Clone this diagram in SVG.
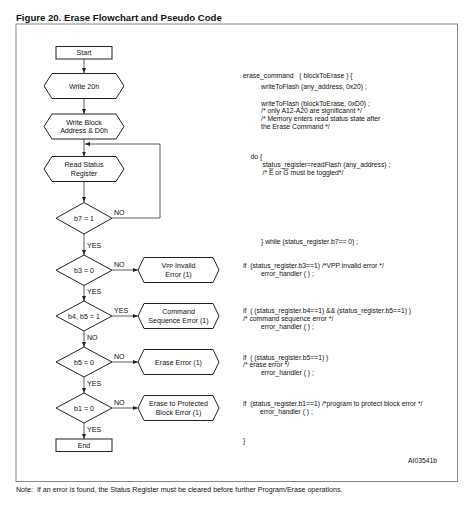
<svg xmlns="http://www.w3.org/2000/svg" width="474" height="513" viewBox="0 0 474 513">
<style>
text{font-family:"Liberation Sans",Arial,sans-serif;fill:#111}
.t{font-size:9.6px;font-weight:bold}
.n{font-size:7.1px;text-anchor:middle}
.l{font-size:7.1px}
.c{font-size:6.8px}
.note{font-size:7.1px}
.s{fill:#fff;stroke:#222;stroke-width:1}
.w{fill:none;stroke:#333;stroke-width:0.8}
</style>
<defs>
<marker id="a" markerWidth="6" markerHeight="6" refX="5" refY="3" orient="auto" markerUnits="userSpaceOnUse">
<path d="M0,1 L5,3 L0,5 z" fill="#222"/>
</marker>
</defs>
<rect width="474" height="513" fill="#fff"/>
<text class="t" x="16" y="21">Figure 20. Erase Flowchart and Pseudo Code</text>
<rect x="16" y="24" width="441.5" height="457.5" fill="none" stroke="#888" stroke-width="1"/>

<g id="connectors">
<path class="w" d="M84,59 V73" marker-end="url(#a)"/>
<path class="w" d="M84,98.5 V114" marker-end="url(#a)"/>
<path class="w" d="M84,139 V156.5" marker-end="url(#a)"/>
<path class="w" d="M112,218 H160 V144 H85" marker-end="url(#a)"/>
<path class="w" d="M84,181.5 V202" marker-end="url(#a)"/>
<path class="w" d="M84,234 V255" marker-end="url(#a)"/>
<path class="w" d="M112,270 H138" marker-end="url(#a)"/>
<path class="w" d="M84,285 V301" marker-end="url(#a)"/>
<path class="w" d="M112,316 H138" marker-end="url(#a)"/>
<path class="w" d="M84,331 V347" marker-end="url(#a)"/>
<path class="w" d="M112,362 H138" marker-end="url(#a)"/>
<path class="w" d="M84,377 V393" marker-end="url(#a)"/>
<path class="w" d="M112,408 H138" marker-end="url(#a)"/>
<path class="w" d="M84,423 V439" marker-end="url(#a)"/>
<text class="l" x="114" y="215.2">NO</text>
<text class="l" x="87" y="248.3">YES</text>
<text class="l" x="114" y="267">NO</text>
<text class="l" x="87" y="294.3">YES</text>
<text class="l" x="114" y="313">YES</text>
<text class="l" x="87" y="340.3">NO</text>
<text class="l" x="114" y="359">NO</text>
<text class="l" x="87" y="386.3">YES</text>
<text class="l" x="114" y="405">NO</text>
<text class="l" x="87" y="432.3">YES</text>
</g>

<g id="start">
<rect class="s" x="56" y="46.5" width="56" height="12.5"/>
<text class="n" x="84" y="55.4">Start</text>
</g>
<g id="write20h">
<polygon class="s" points="52,73.5 116,73.5 124,86 116,98.5 52,98.5 44,86"/>
<text class="n" x="84" y="88.5">Write 20h</text>
</g>
<g id="writeblock">
<polygon class="s" points="52,114 116,114 124,126.5 116,139 52,139 44,126.5"/>
<text class="n" x="84" y="124.8">Write Block</text>
<text class="n" x="84" y="133.3">Address &amp; D0h</text>
</g>
<g id="readstatus">
<polygon class="s" points="52,156.5 116,156.5 124,169 116,181.5 52,181.5 44,169"/>
<text class="n" x="84" y="167.3">Read Status</text>
<text class="n" x="84" y="175.8">Register</text>
</g>
<g id="b7">
<polygon class="s" points="84,202.5 112,218.2 84,234 56,218.2"/>
<text class="n" x="84" y="220.7">b7 = 1</text>
</g>
<g id="b3">
<polygon class="s" points="84,255 112,270.2 84,285.5 56,270.2"/>
<text class="n" x="84" y="272.7">b3 = 0</text>
</g>
<g id="b45">
<polygon class="s" points="84,301 112,316 84,331 56,316"/>
<text class="n" x="84" y="318.5">b4, b5 = 1</text>
</g>
<g id="b5">
<polygon class="s" points="84,347 112,362 84,377 56,362"/>
<text class="n" x="84" y="364.5">b5 = 0</text>
</g>
<g id="b1">
<polygon class="s" points="84,393 112,408 84,423 56,408"/>
<text class="n" x="84" y="410.5">b1 = 0</text>
</g>
<g id="end">
<rect class="s" x="56" y="439" width="56" height="12.5"/>
<text class="n" x="84" y="447.9">End</text>
</g>
<g id="vpp">
<polygon class="s" points="144,257.5 213,257.5 219,270 213,282.5 144,282.5 138,270"/>
<text class="n" x="178.5" y="268">V<tspan font-size="5.2px">PP</tspan> Invalid</text>
<text class="n" x="178.5" y="276.5">Error (1)</text>
</g>
<g id="cmdseq">
<polygon class="s" points="144,303.5 213,303.5 219,316 213,328.5 144,328.5 138,316"/>
<text class="n" x="178.5" y="314">Command</text>
<text class="n" x="178.5" y="322.5">Sequence Error (1)</text>
</g>
<g id="eraseerr">
<polygon class="s" points="144,349.5 213,349.5 219,362 213,374.5 144,374.5 138,362"/>
<text class="n" x="178.5" y="364.5">Erase Error (1)</text>
</g>
<g id="protect">
<polygon class="s" points="144,395.5 213,395.5 219,408 213,420.5 144,420.5 138,408"/>
<text class="n" x="178.5" y="406">Erase to Protected</text>
<text class="n" x="178.5" y="414.5">Block Error (1)</text>
</g>

<g id="code">
<text class="c" x="243" y="78" xml:space="preserve">erase_command   ( blockToErase ) {</text>
<text class="c" x="261" y="89">writeToFlash (any_address, 0x20) ;</text>
<text class="c" x="261" y="105.5">writeToFlash (blockToErase, 0xD0) ;</text>
<text class="c" x="261" y="113.3">/* only A12-A20 are significannt */</text>
<text class="c" x="261" y="121.2">/* Memory enters read status state after</text>
<text class="c" x="261" y="129">the Erase Command */</text>
<text class="c" x="250.5" y="159">do {</text>
<text class="c" x="262.5" y="167.3">status_register=readFlash (any_address) ;</text>
<text class="c" x="262.5" y="174.6">/* <tspan text-decoration="overline">E</tspan> or <tspan text-decoration="overline">G</tspan> must be toggled*/</text>
<text class="c" x="261" y="244">} while (status_register.b7== 0) ;</text>
<text class="c" x="243" y="268.3" xml:space="preserve">if  (status_register.b3==1) /*VPP invalid error */</text>
<text class="c" x="261" y="276.3">error_handler ( ) ;</text>
<text class="c" x="243" y="313.3" xml:space="preserve">if  ( (status_register.b4==1) &amp;&amp; (status_register.b5==1) )</text>
<text class="c" x="243" y="320.6">/* command sequence error */</text>
<text class="c" x="261" y="329">error_handler ( ) ;</text>
<text class="c" x="243" y="359.6" xml:space="preserve">if  ( (status_register.b5==1) )</text>
<text class="c" x="243" y="367.3">/* erase error */</text>
<text class="c" x="261" y="375">error_handler ( ) ;</text>
<text class="c" x="243" y="405.5" xml:space="preserve">if  (status_register.b1==1) /*program to protect block error */</text>
<text class="c" x="260" y="413.8">error_handler ( ) ;</text>
<text class="c" x="243" y="442.5">}</text>
<text class="c" x="408" y="462.5">AI03541b</text>
</g>
<text class="note" x="16" y="491.5" xml:space="preserve">Note:  If an error is found, the Status Register must be cleared before further Program/Erase operations.</text>
</svg>
